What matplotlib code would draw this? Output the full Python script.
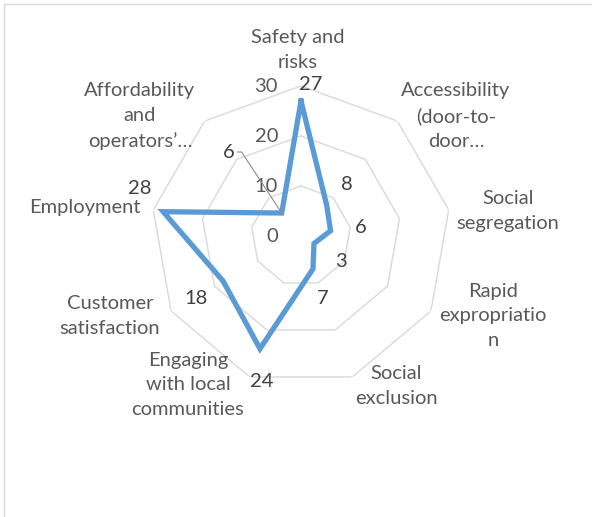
import numpy as np
import matplotlib
matplotlib.use('Agg')
import matplotlib.pyplot as plt
from matplotlib.patches import Rectangle

categories = ['Safety and\nrisks', 'Accessibility\n(door-to-\ndoor…',
              'Social\nsegregation', 'Rapid\nexpropriatio\nn',
              'Social\nexclusion', 'Engaging\nwith local\ncommunities',
              'Customer\nsatisfaction', 'Employment',
              'Affordability\nand\noperators’…']
values = [27, 8, 6, 3, 7, 24, 18, 28, 6]
rings = [10, 20, 30]
ring_labels = ['0', '10', '20', '30']

# label placement (pixels, relative to chart centre / to each point)
cat_offsets = [(-3, 186), (155, 120), (207, 25), (192, -80), (95, -150),
               (-113, -149), (-191, -80), (-216, 28), (-161, 120)]
val_offsets = [(10, 17), (20, 21), (30, 3), (27, -18), (10, -30),
               (2, -33), (-27, -17), (-23, 23), (-53, 61)]

plt.rcParams['font.family'] = ['Lato', 'DejaVu Sans']

W, H = 592, 517
fig = plt.figure(figsize=(W / 100, H / 100), dpi=100)
fig.patch.set_facecolor('white')
fig.patches.append(Rectangle((4 / W, -0.05), 1.1, 1 - 4 / H + 0.05,
                             transform=fig.transFigure, fill=False,
                             edgecolor='#d9d9d9', linewidth=1.0))

cx, cy, R = 301, 236, 150
ax = fig.add_axes([(cx - R) / W, (H - cy - R) / H, 2 * R / W, 2 * R / H],
                  projection='polar')
ax.set_theta_zero_location('N')
ax.set_theta_direction(-1)
ax.set_ylim(0, 30)
ax.axis('off')

n = len(categories)
ang = np.linspace(0, 2 * np.pi, n, endpoint=False)
ang_c = np.append(ang, ang[0])

for r in rings:
    ax.plot(ang_c, [r] * (n + 1), color='#d9d9d9', lw=1.0, zorder=1)

vals_c = values + values[:1]
ax.plot(ang_c, vals_c, color='#5b9bd5', lw=3.8, zorder=3,
        solid_joinstyle='miter')

# radial axis labels
for v, lab in zip([0] + rings, ring_labels):
    ax.annotate(lab, xy=(0, v), xytext=(-23, 0), textcoords='offset pixels',
                ha='right', va='center', fontsize=14.5, color='#595959',
                annotation_clip=False)

# category labels
for lab, (dx, dy) in zip(categories, cat_offsets):
    ax.annotate(lab, xy=(0, 0), xytext=(dx, dy), textcoords='offset pixels',
                ha='center', va='center', multialignment='center',
                fontsize=14.5, color='#595959', linespacing=1.55,
                annotation_clip=False)

# data labels
for i, (a, v) in enumerate(zip(ang, values)):
    dx, dy = val_offsets[i]
    kw = {}
    if i == n - 1:
        kw['arrowprops'] = dict(arrowstyle='-', color='#8c8c8c', lw=0.8,
                                shrinkA=0, shrinkB=0, relpos=(1, 0.5),
                                connectionstyle='arc,angleA=0,angleB=0,armA=7,armB=0,rad=0')
    ax.annotate(str(v), xy=(a, v), xytext=(dx, dy), textcoords='offset pixels',
                ha='center', va='center', fontsize=14.5, color='#404040',
                annotation_clip=False, zorder=4, **kw)

fig.savefig('out.png', dpi=100)
